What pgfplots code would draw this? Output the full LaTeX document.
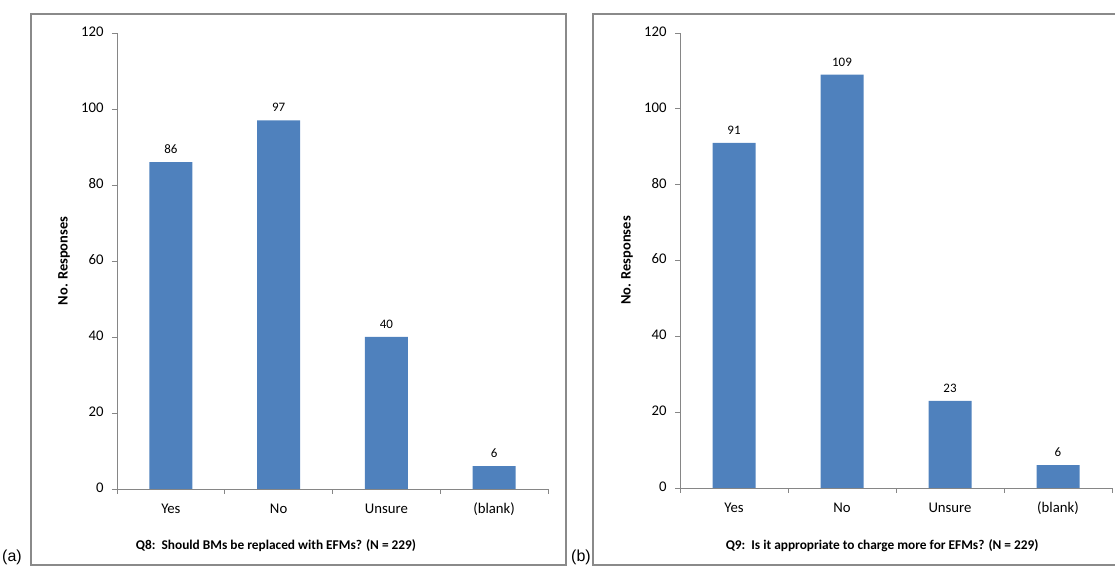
\documentclass[border=0pt]{standalone}
\usepackage{pgfplots}
\pgfplotsset{compat=1.18}
\usepackage{fontspec}
\setmainfont{Carlito}
\newfontfamily\arialfont{Liberation Sans}

\definecolor{barblue}{HTML}{4F81BD}
\definecolor{axgray}{HTML}{868686}
\definecolor{framegray}{HTML}{8A8A8A}

\pgfplotsset{
  resp/.style={
    scale only axis,
    width=431bp, height=456bp,
    anchor=south west,
    xmin=-0.5, xmax=3.5,
    ymin=0, ymax=120,
    ytick={0,20,40,60,80,100,120},
    xtick={0,1,2,3},
    xticklabels={Yes,No,Unsure,(blank)},
    typeset ticklabels with strut,
    minor xtick={-0.5,0.5,1.5,2.5,3.5},
    major x tick style={draw=none},
    tick align=outside,
    major tick length=5bp,
    minor tick length=5bp,
    tick style={axgray, line width=0.8pt},
    axis x line*=bottom,
    axis y line*=left,
    axis line style={axgray, line width=0.8pt, -},
    ticklabel style={font=\fontsize{14.8}{17}\selectfont},
    yticklabel style={xshift=-5bp},
    xticklabel style={yshift=-4bp},
    /pgf/number format/assume math mode=true,
    ybar, bar width=43bp,
    ylabel={\bfseries No. Responses},
    ylabel style={at={(axis description cs:0,0.5)}, anchor=center, yshift=53bp, font=\fontsize{14.5}{17}\selectfont},
    xlabel style={anchor=center, font=\fontsize{13.4}{16}\selectfont},
    nodes near coords,
    nodes near coords style={font=\fontsize{13}{15}\selectfont, yshift=5bp},
  }
}

\begin{document}
\begin{tikzpicture}
\useasboundingbox (0,0) rectangle (1115bp,567bp);

% panel frames
\draw[framegray, line width=1.1pt] (31bp,2bp) rectangle (566bp,553bp);
\draw[framegray, line width=1.1pt] (593bp,2bp) rectangle (1117bp,553bp);

% (a) Q8
\begin{axis}[resp, at={(117bp,78bp)},
  xlabel={\bfseries Q8:\ \ Should BMs be replaced with EFMs? (N = 229)},
  xlabel style={at={(axis description cs:0.369,0)}, yshift=-57bp}]
\addplot[fill=barblue, draw=none] coordinates {(0,86) (1,97) (2,40) (3,6)};
\end{axis}

% (b) Q9
\begin{axis}[resp, at={(680bp,79bp)}, width=432bp, height=455bp,
  xlabel={\bfseries Q9:\ \ Is it appropriate to charge more for EFMs? (N = 229)},
  xlabel style={at={(axis description cs:0.468,0)}, yshift=-58bp}]
\addplot[fill=barblue, draw=none] coordinates {(0,91) (1,109) (2,23) (3,6)};
\end{axis}

\node[font=\arialfont\fontsize{16}{18}\selectfont, anchor=west, inner sep=0pt] at (2bp,10bp) {(a)};
\node[font=\arialfont\fontsize{16}{18}\selectfont, anchor=west, inner sep=0pt] at (571bp,10bp) {(b)};
\end{tikzpicture}
\end{document}
